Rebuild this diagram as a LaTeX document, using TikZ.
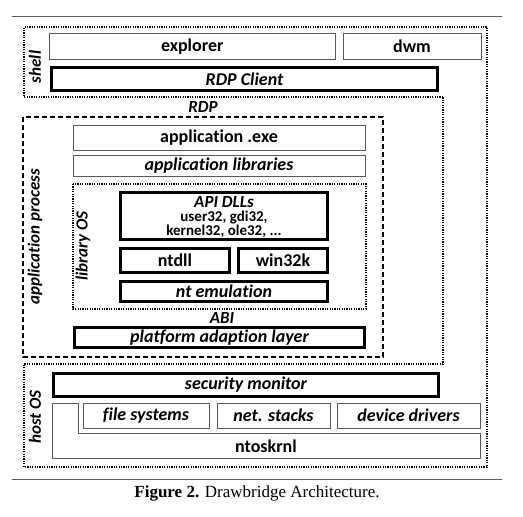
\documentclass[tikz,border=0pt]{standalone}
\usepackage{fontspec}
\setmainfont{Liberation Serif}
\newfontfamily\boxfont[Ligatures=NoCommon]{Carlito}
\usetikzlibrary{positioning}

\definecolor{thinGray}{rgb}{0.35,0.35,0.35}

\tikzset{
  layer/.style={inner sep=0pt, outer sep=0pt, font=\boxfont\bfseries\fontsize{18}{19}\selectfont},
  slanted/.style={font=\boxfont\bfseries\itshape\fontsize{17}{18}\selectfont},
  thinbox/.style={layer, draw=thinGray, line width=1pt},
  thickbox/.style={layer, draw=black, line width=3pt},
  region/.style={layer, slanted, rotate=90},
  dotline/.style={line width=1.8pt, dash pattern=on 1.2pt off 1.2pt},
  dashline/.style={line width=2pt, dash pattern=on 5pt off 3pt}
}

\begin{document}
\begin{tikzpicture}[x=1pt,y=-1pt]
\useasboundingbox (0,0) rectangle (523,517);

% rules of the figure
\draw [thinGray, line width=1pt] (12,16) -- (502,16);
\draw [thinGray, line width=1pt] (12,479) -- (502,479);

% shell and host OS
\draw [dotline] (443,97) -- (24,97) -- (24,27) -- (487,27) -- (487,467) -- (24,467) -- (24,364) -- (443,364) -- cycle;

% application process and library OS
\draw [dashline] (23,117) rectangle (383,357);
\draw [line width=1.5pt, dash pattern=on 1.2pt off 1.2pt] (73,184) rectangle (366,309);

% the thin boxes
\def\thinBoxes{
49.5/33.5/335/59/explorer/explorer,
343/33.5/481/59/dwm/dwm,
73/125/365/150/appexe/application .exe,
73/155/365/176/applibs/{\itshape application libraries},
83/403/209/428/filesys/{\itshape file systems},
217/403/330/428/netstacks/{\itshape net. stacks},
337/403/480/428/drivers/{\itshape device drivers}
}
\foreach \xa/\ya/\xb/\yb/\nm/\txt in \thinBoxes
{
\pgfmathsetmacro\w{\xb-\xa}
\pgfmathsetmacro\h{\yb-\ya}
\node [thinbox, minimum width=\w pt, minimum height=\h pt] (\nm) at ({(\xa+\xb)/2},{(\ya+\yb)/2}) {\txt};
}

% the thick boxes
\def\thickBoxes{
51.5/67.5/437.5/90.5/rdpclient/{\itshape RDP Client},
120.5/248.5/229.5/272.5/ntdll/ntdll,
238.5/248.5/327.5/272.5/win32k/win32k,
120.5/281.5/327.5/301.5/ntemu/{\itshape nt emulation},
74.5/327.5/364.5/347.5/pal/{\itshape platform adaption layer},
53.5/373.5/438.5/396.5/secmon/{\itshape security monitor}
}
\foreach \xa/\ya/\xb/\yb/\nm/\txt in \thickBoxes
{
\pgfmathsetmacro\w{\xb-\xa}
\pgfmathsetmacro\h{\yb-\ya}
\node [thickbox, minimum width=\w pt, minimum height=\h pt] (\nm) at ({(\xa+\xb)/2},{(\ya+\yb)/2}) {\txt};
}

% API DLLs
\node [thickbox, minimum width=207pt, minimum height=47pt] (apidlls) at (224,216) {};
\node [layer, slanted, anchor=base] (apititle) at (224,207) {API DLLs};
\node [layer, anchor=north, align=center, font=\boxfont\bfseries\fontsize{15}{13}\selectfont] (apilist) at (224,211) {user32, gdi32,\\kernel32, ole32, ...};

% ntoskrnl
\draw [thinGray, line width=1pt] (52,403) -- (78,403) -- (78,433) -- (480,433) -- (480,458) -- (52,458) -- cycle;
\node [layer] (ntoskrnl) at (266,446) {ntoskrnl};

% region labels
\node [region] (shell) at (35,67) {shell};
\node [region] (appproc) at (35,237) {application process};
\node [region] (libos) at (83,246) {library OS};
\node [region] (hostos) at (35,417) {host OS};
\node [layer, slanted] (rdp) at (203,107) {RDP};
\node [layer, slanted] (abi) at (222,318) {ABI};

% caption
\node [font=\fontsize{17}{19}\selectfont] (caption) at (257,493) {\textbf{Figure 2.} Drawbridge Architecture.};
\end{tikzpicture}
\end{document}
